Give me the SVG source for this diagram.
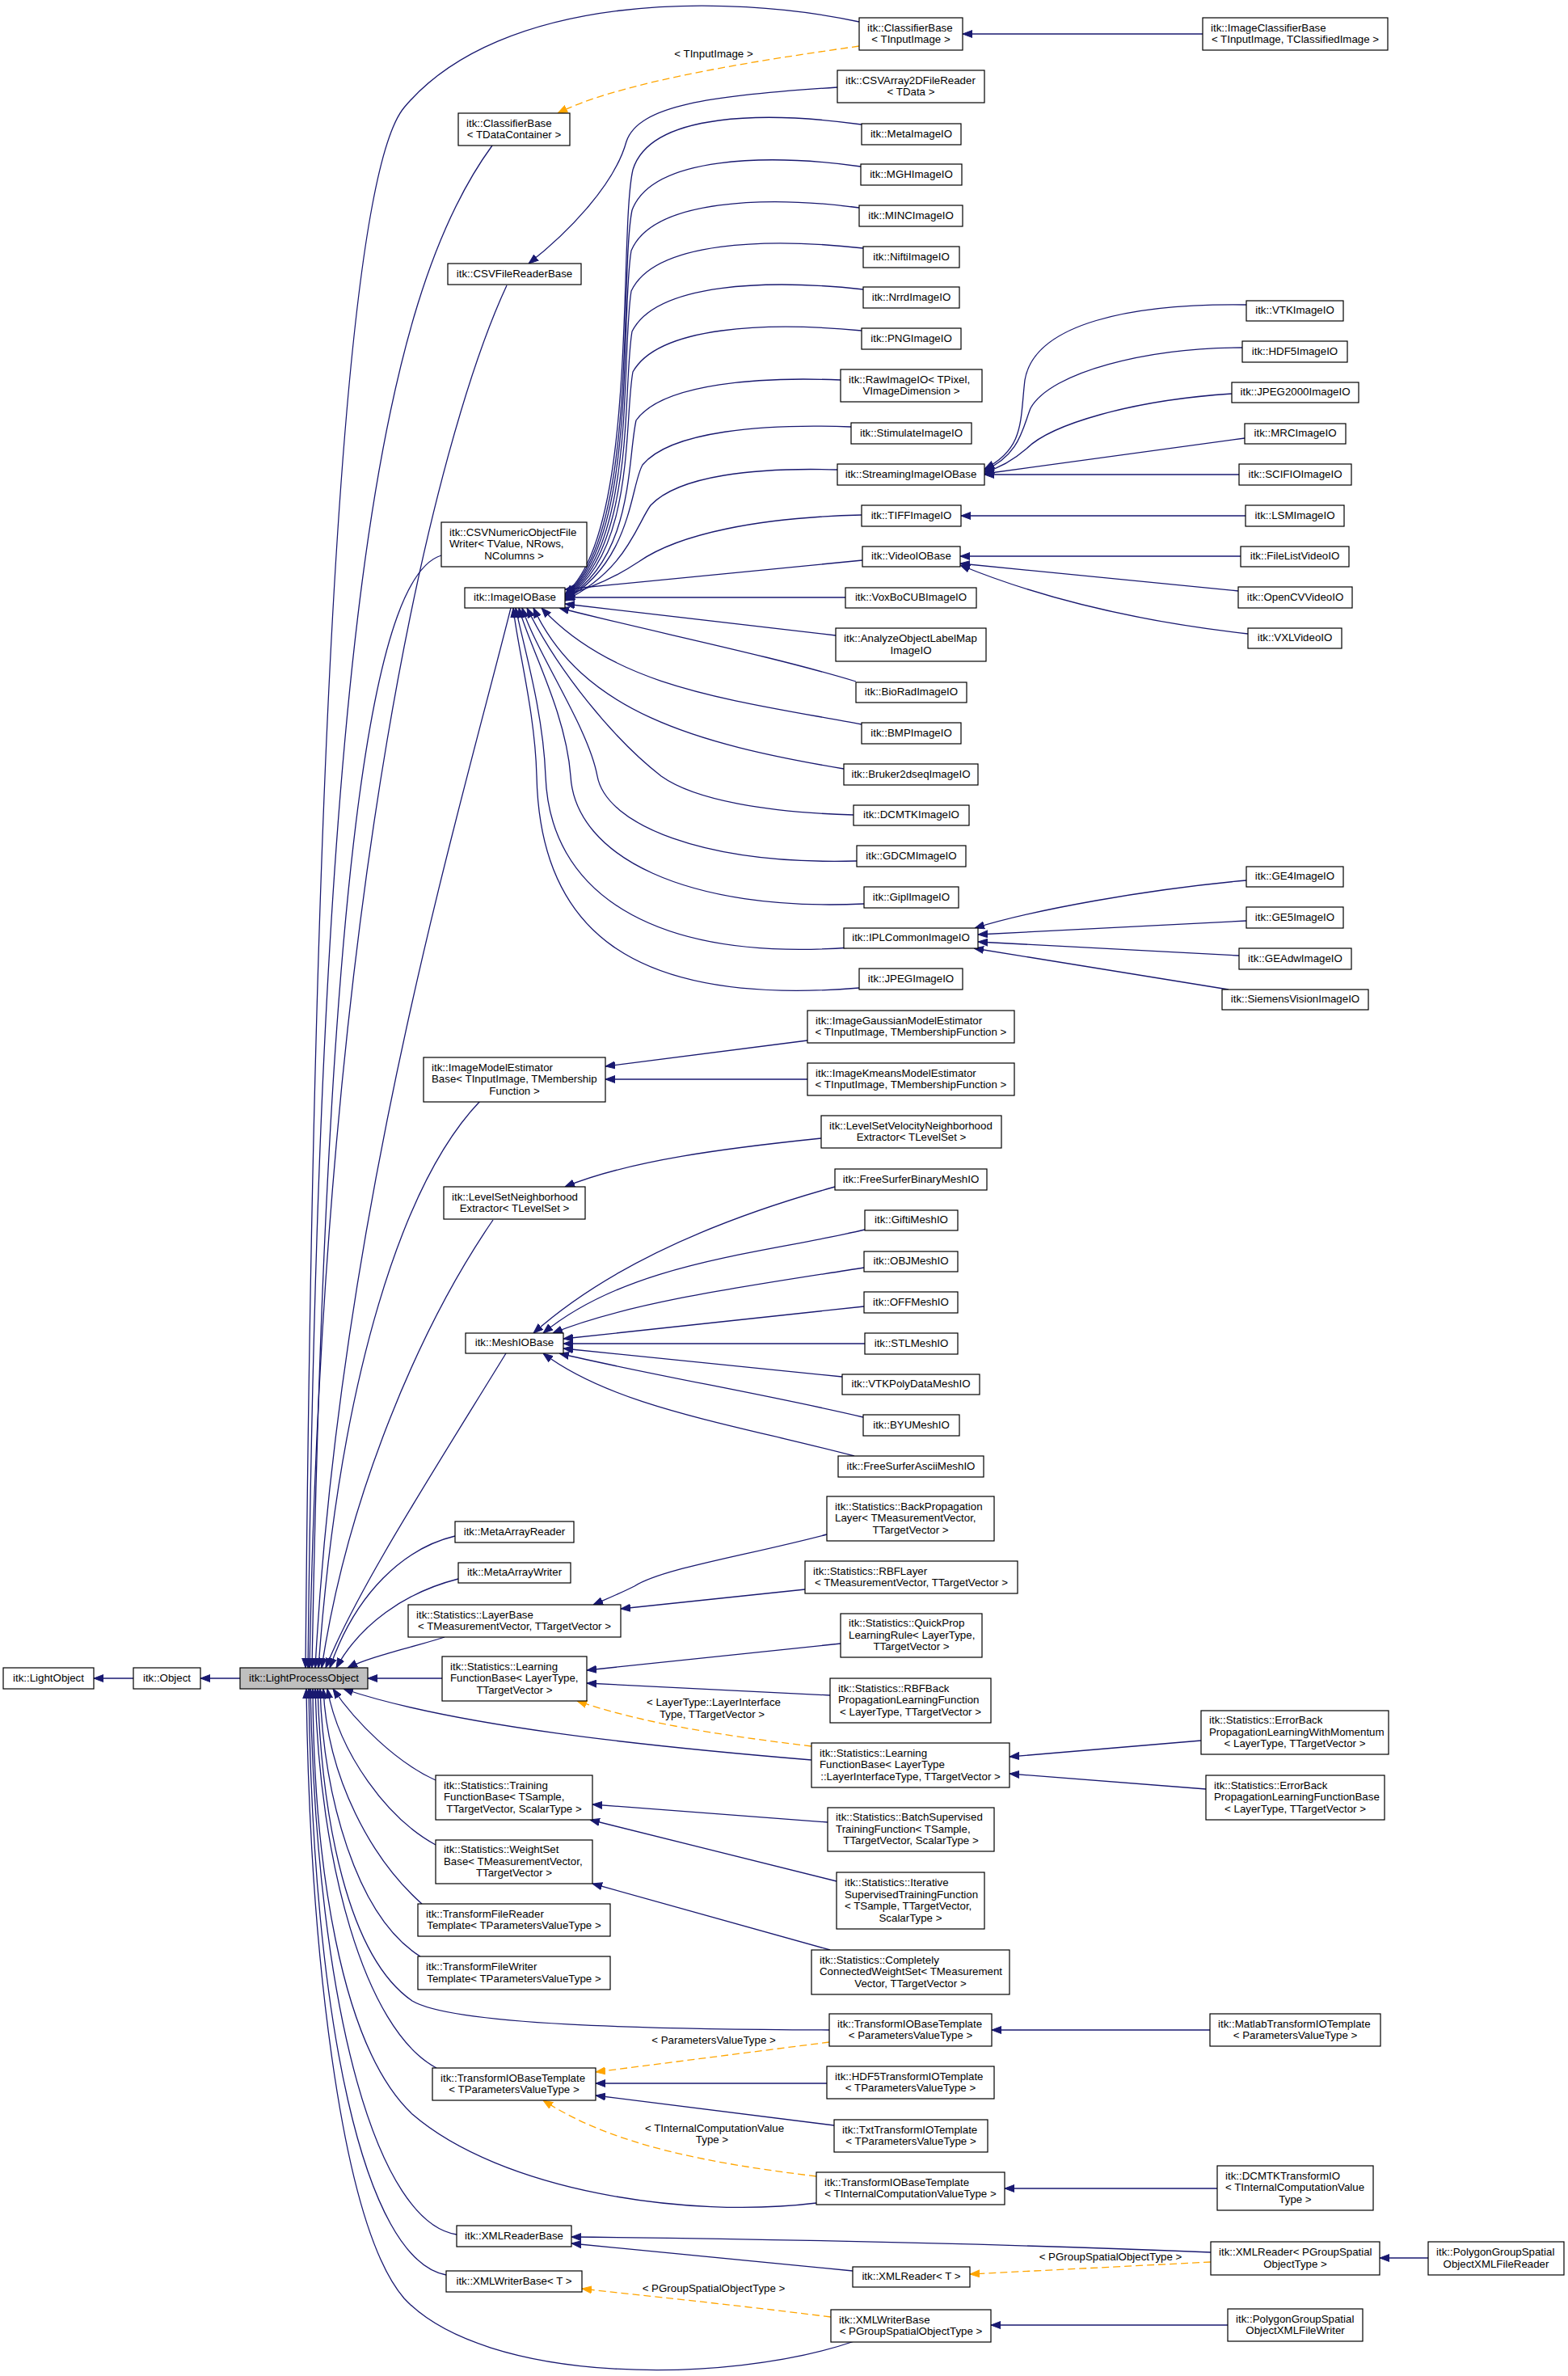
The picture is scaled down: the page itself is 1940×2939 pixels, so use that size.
<svg xmlns="http://www.w3.org/2000/svg" width="1940" height="2939" viewBox="0 0 1940 2939">
<style>
.n rect{fill:#fff;stroke:#000;stroke-width:1.2}
.n rect.g{fill:#bfbfbf}
text{font-family:"Liberation Sans",Arial,Helvetica,sans-serif;font-size:13.3px;fill:#000}
.s{text-anchor:start}
.m{text-anchor:middle}
.e path{fill:none;stroke:#191970;stroke-width:1.3;marker-end:url(#a)}
.e path.d{stroke:#ffa500;stroke-dasharray:9,5;marker-end:url(#ao)}
</style>
<defs>
<marker id="a" viewBox="0 0 12 10" refX="12" refY="5" markerWidth="12" markerHeight="10" markerUnits="userSpaceOnUse" orient="auto"><path d="M0,0.5 L12,5 L0,9.5 z" fill="#191970" stroke="#191970" stroke-width="1"/></marker>
<marker id="ao" viewBox="0 0 12 10" refX="12" refY="5" markerWidth="12" markerHeight="10" markerUnits="userSpaceOnUse" orient="auto"><path d="M0,0.5 L12,5 L0,9.5 z" fill="#ffa500" stroke="#ffa500" stroke-width="1"/></marker>
</defs>
<rect x="0" y="0" width="1940" height="2939" fill="#fff"/>
<g id="edges" class="e">
<path d="M165,2076 L116,2076"/>
<path d="M297,2076 L248,2076"/>
<path d="M1063,27 C900,-8 620,-10 500,133 C440,205 390,700 378,2063"/>
<path d="M609,180 C470,370 395,800 381,2063"/>
<path d="M627,353 C540,540 400,1100 383,2063"/>
<path d="M546,687 C470,710 405,1000 386,2063"/>
<path d="M632,752 C570,1000 420,1500 390,2063"/>
<path d="M594,1362 C500,1460 420,1700 394,2063"/>
<path d="M610,1509 C520,1640 430,1850 398,2063"/>
<path d="M626,1674 C530,1830 440,1970 403,2063"/>
<path d="M563,1900 C500,1915 440,1970 408,2063"/>
<path d="M567,1953 C500,1970 445,2010 416,2063"/>
<path d="M550,2025 C510,2038 460,2048 430,2063"/>
<path d="M547,2076 L455,2076"/>
<path d="M1004,2177 C800,2160 560,2135 425,2089"/>
<path d="M539,2202 C490,2180 440,2130 412,2089"/>
<path d="M539,2282 C480,2250 420,2170 405,2089"/>
<path d="M522,2355 C460,2300 405,2200 400,2089"/>
<path d="M520,2420 C440,2370 400,2220 396,2089"/>
<path d="M1026,2511 C800,2510 560,2505 510,2475 C430,2420 398,2250 393,2089"/>
<path d="M540,2558 C450,2510 395,2300 390,2089"/>
<path d="M1010,2725 C850,2745 620,2710 510,2615 C420,2530 388,2300 387,2089"/>
<path d="M565,2764 C470,2750 392,2500 384,2089"/>
<path d="M552,2814 C450,2795 387,2500 382,2089"/>
<path d="M1057,2896 C900,2950 600,2950 500,2843 C420,2750 383,2400 379,2089"/>
<path d="M1488,42 L1191,42"/>
<path class="d" d="M1063,57 C900,80 760,105 690,140"/>
<path d="M1036,108 C880,118 790,130 775,175 C760,230 700,290 654,326"/>
<path d="M1066,154 C950,138 805,138 783,210 C765,290 790,660 699,735"/>
<path d="M1065,206 C950,190 807,193 782,260 C766,340 790,665 699,736"/>
<path d="M1063,257 C950,242 808,246 781,310 C767,390 789,670 699,737"/>
<path d="M1068,307 C950,294 810,298 781,360 C768,440 788,675 699,738"/>
<path d="M1068,358 C950,345 812,350 782,410 C770,480 787,680 699,739"/>
<path d="M1066,409 C950,398 815,403 783,460 C772,520 786,685 699,740"/>
<path d="M1040,470 C945,466 820,473 787,520 C776,570 784,690 699,741"/>
<path d="M1053,528 C945,524 830,533 795,575 C780,600 782,695 699,742"/>
<path d="M1036,581 C935,578 840,588 805,625 C787,650 775,705 699,743"/>
<path d="M1066,637 C940,640 840,660 790,695 C760,715 730,728 699,736"/>
<path d="M1067,693 L699,729"/>
<path d="M1046,739 L699,739"/>
<path d="M1034,786 L699,747"/>
<path d="M1059,843 C950,810 800,780 692,752"/>
<path d="M1066,896 C900,865 760,850 670,752"/>
<path d="M1044,951 C860,920 720,880 660,752"/>
<path d="M1056,1008 C950,1005 860,990 818,960 C760,915 690,830 652,752"/>
<path d="M1060,1065 C870,1070 750,1020 739,960 C728,900 665,810 646,752"/>
<path d="M1069,1118 C850,1128 712,1060 706,960 C700,880 655,800 642,752"/>
<path d="M1052,1172 C800,1190 680,1100 675,960 C672,880 648,800 638,752"/>
<path d="M1063,1222 C780,1245 668,1150 664,960 C662,880 640,800 635,752"/>
<path d="M1542,377 C1400,375 1280,400 1268,470 C1262,520 1268,555 1218,580"/>
<path d="M1537,430 C1420,430 1300,460 1275,505 C1265,530 1262,562 1218,582"/>
<path d="M1524,487 C1400,495 1300,525 1270,555 C1255,568 1240,578 1218,584"/>
<path d="M1540,542 L1218,586"/>
<path d="M1533,587 L1218,587"/>
<path d="M1541,638 L1189,638"/>
<path d="M1535,688 L1188,688"/>
<path d="M1532,731 L1188,697"/>
<path d="M1544,784 C1420,770 1300,745 1188,699"/>
<path d="M1542,1089 C1420,1100 1280,1125 1206,1148"/>
<path d="M1542,1139 L1210,1156"/>
<path d="M1533,1182 L1210,1165"/>
<path d="M1520,1224 L1205,1173"/>
<path d="M999,1287 L749,1319"/>
<path d="M999,1335 L749,1335"/>
<path d="M1016,1408 C900,1420 780,1435 699,1468"/>
<path d="M1033,1468 C900,1505 760,1560 660,1649"/>
<path d="M1070,1521 C950,1550 780,1560 672,1649"/>
<path d="M1069,1568 C930,1590 780,1610 684,1649"/>
<path d="M1069,1616 L697,1656"/>
<path d="M1070,1662 L697,1662"/>
<path d="M1042,1703 L697,1668"/>
<path d="M1068,1753 C950,1725 800,1700 692,1674"/>
<path d="M1057,1801 C900,1760 760,1740 672,1674"/>
<path d="M1023,1898 C920,1925 820,1940 785,1962 C765,1972 750,1978 734,1985"/>
<path d="M996,1966 L768,1990"/>
<path d="M1040,2033 L726,2066"/>
<path d="M1027,2097 L726,2082"/>
<path class="d" d="M1004,2160 C880,2145 790,2130 714,2104"/>
<path d="M1486,2153 L1249,2173"/>
<path d="M1492,2213 L1249,2194"/>
<path d="M1024,2254 L733,2232"/>
<path d="M1035,2327 L730,2251"/>
<path d="M1027,2412 L733,2330"/>
<path d="M1497,2511 L1227,2511"/>
<path d="M1023,2577 L737,2577"/>
<path d="M1032,2629 L737,2592"/>
<path class="d" d="M1026,2526 L737,2563"/>
<path class="d" d="M1010,2692 C880,2676 760,2655 672,2598"/>
<path d="M1506,2707 L1243,2707"/>
<path d="M1498,2786 C1300,2778 1000,2770 707,2767"/>
<path d="M1055,2809 L707,2775"/>
<path class="d" d="M1498,2798 L1200,2813"/>
<path d="M1767,2793 L1707,2793"/>
<path class="d" d="M1028,2866 C900,2850 800,2840 720,2831"/>
<path d="M1519,2876 L1226,2876"/>
</g>
<g id="edge-labels">
<text class="m" x="883" y="71">&lt; TInputImage &gt;</text>
<text class="m" x="883" y="2110">&lt; LayerType::LayerInterface</text>
<text class="m" x="881" y="2124.5">Type, TTargetVector &gt;</text>
<text class="m" x="883" y="2528">&lt; ParametersValueType &gt;</text>
<text class="m" x="884" y="2636.5">&lt; TInternalComputationValue</text>
<text class="m" x="881" y="2650.5">Type &gt;</text>
<text class="m" x="883" y="2835">&lt; PGroupSpatialObjectType &gt;</text>
<text class="m" x="1374" y="2796">&lt; PGroupSpatialObjectType &gt;</text>
</g>
<g id="n-lightobject" class="n"><rect x="4" y="2063" width="112" height="26"/><text class="m" x="60" y="2079.8">itk::LightObject</text></g>
<g id="n-object" class="n"><rect x="165" y="2063" width="83" height="26"/><text class="m" x="206.5" y="2079.8">itk::Object</text></g>
<g id="n-lightprocessobject" class="n"><rect class="g" x="297" y="2063" width="158" height="26"/><text class="m" x="376" y="2079.8">itk::LightProcessObject</text></g>
<g id="n-classifierbase-tdc" class="n"><rect x="567" y="140" width="138" height="40"/><text class="s" x="577" y="156.5">itk::ClassifierBase</text><text class="m" x="636" y="171">&lt; TDataContainer &gt;</text></g>
<g id="n-csvfilereaderbase" class="n"><rect x="554" y="326" width="165" height="26"/><text class="m" x="636.5" y="342.8">itk::CSVFileReaderBase</text></g>
<g id="n-csvnumeric" class="n"><rect x="546" y="646" width="180" height="55"/><text class="s" x="556" y="662.8">itk::CSVNumericObjectFile</text><text class="s" x="556" y="677.3">Writer&lt; TValue, NRows,</text><text class="m" x="636" y="691.8">NColumns &gt;</text></g>
<g id="n-imageiobase" class="n"><rect x="575" y="727" width="124" height="25"/><text class="m" x="637" y="743.3">itk::ImageIOBase</text></g>
<g id="n-imagemodelestimatorbase" class="n"><rect x="524" y="1308" width="225" height="55"/><text class="s" x="534" y="1324.8">itk::ImageModelEstimator</text><text class="s" x="534" y="1339.3">Base&lt; TInputImage, TMembership</text><text class="m" x="636.5" y="1353.8">Function &gt;</text></g>
<g id="n-levelsetneighborhoodextractor" class="n"><rect x="549" y="1468" width="175" height="40"/><text class="s" x="559" y="1484.5">itk::LevelSetNeighborhood</text><text class="m" x="636.5" y="1499">Extractor&lt; TLevelSet &gt;</text></g>
<g id="n-meshiobase" class="n"><rect x="576" y="1649" width="121" height="25"/><text class="m" x="636.5" y="1665.3">itk::MeshIOBase</text></g>
<g id="n-metaarrayreader" class="n"><rect x="563" y="1882" width="147" height="26"/><text class="m" x="636.5" y="1898.8">itk::MetaArrayReader</text></g>
<g id="n-metaarraywriter" class="n"><rect x="567" y="1933" width="139" height="25"/><text class="m" x="636.5" y="1949.3">itk::MetaArrayWriter</text></g>
<g id="n-layerbase" class="n"><rect x="505" y="1985" width="263" height="40"/><text class="s" x="515" y="2001.5">itk::Statistics::LayerBase</text><text class="m" x="636.5" y="2016">&lt; TMeasurementVector, TTargetVector &gt;</text></g>
<g id="n-learningfunctionbase" class="n"><rect x="547" y="2049" width="179" height="55"/><text class="s" x="557" y="2065.8">itk::Statistics::Learning</text><text class="s" x="557" y="2080.3">FunctionBase&lt; LayerType,</text><text class="m" x="636.5" y="2094.8">TTargetVector &gt;</text></g>
<g id="n-trainingfunctionbase" class="n"><rect x="539" y="2196" width="194" height="55"/><text class="s" x="549" y="2212.8">itk::Statistics::Training</text><text class="s" x="549" y="2227.3">FunctionBase&lt; TSample,</text><text class="m" x="636" y="2241.8">TTargetVector, ScalarType &gt;</text></g>
<g id="n-weightsetbase" class="n"><rect x="539" y="2276" width="194" height="54"/><text class="s" x="549" y="2292.3">itk::Statistics::WeightSet</text><text class="s" x="549" y="2306.8">Base&lt; TMeasurementVector,</text><text class="m" x="636" y="2321.3">TTargetVector &gt;</text></g>
<g id="n-transformfilereadertemplate" class="n"><rect x="517" y="2355" width="238" height="40"/><text class="s" x="527" y="2371.5">itk::TransformFileReader</text><text class="m" x="636" y="2386">Template&lt; TParametersValueType &gt;</text></g>
<g id="n-transformfilewritertemplate" class="n"><rect x="517" y="2420" width="238" height="41"/><text class="s" x="527" y="2437">itk::TransformFileWriter</text><text class="m" x="636" y="2451.5">Template&lt; TParametersValueType &gt;</text></g>
<g id="n-transformiobasetemplate-tpvt" class="n"><rect x="535" y="2558" width="202" height="40"/><text class="s" x="545" y="2574.5">itk::TransformIOBaseTemplate</text><text class="m" x="636" y="2589">&lt; TParametersValueType &gt;</text></g>
<g id="n-xmlreaderbase" class="n"><rect x="565" y="2753" width="142" height="26"/><text class="m" x="636" y="2769.8">itk::XMLReaderBase</text></g>
<g id="n-xmlwriterbase-t" class="n"><rect x="552" y="2809" width="168" height="26"/><text class="m" x="636" y="2825.8">itk::XMLWriterBase&lt; T &gt;</text></g>
<g id="n-classifierbase-tii" class="n"><rect x="1063" y="22" width="128" height="40"/><text class="s" x="1073" y="38.5">itk::ClassifierBase</text><text class="m" x="1127" y="53">&lt; TInputImage &gt;</text></g>
<g id="n-csvarray2dfilereader" class="n"><rect x="1036" y="87" width="182" height="40"/><text class="s" x="1046" y="103.5">itk::CSVArray2DFileReader</text><text class="m" x="1127" y="118">&lt; TData &gt;</text></g>
<g id="n-metaimageio" class="n"><rect x="1066" y="153" width="123" height="26"/><text class="m" x="1127.5" y="169.8">itk::MetaImageIO</text></g>
<g id="n-mghimageio" class="n"><rect x="1065" y="203" width="125" height="26"/><text class="m" x="1127.5" y="219.8">itk::MGHImageIO</text></g>
<g id="n-mincimageio" class="n"><rect x="1063" y="254" width="128" height="26"/><text class="m" x="1127" y="270.8">itk::MINCImageIO</text></g>
<g id="n-niftiimageio" class="n"><rect x="1068" y="305" width="119" height="26"/><text class="m" x="1127.5" y="321.8">itk::NiftiImageIO</text></g>
<g id="n-nrrdimageio" class="n"><rect x="1068" y="355" width="119" height="26"/><text class="m" x="1127.5" y="371.8">itk::NrrdImageIO</text></g>
<g id="n-pngimageio" class="n"><rect x="1066" y="406" width="123" height="26"/><text class="m" x="1127.5" y="422.8">itk::PNGImageIO</text></g>
<g id="n-rawimageio" class="n"><rect x="1040" y="457" width="175" height="40"/><text class="s" x="1050" y="473.5">itk::RawImageIO&lt; TPixel,</text><text class="m" x="1127.5" y="488">VImageDimension &gt;</text></g>
<g id="n-stimulateimageio" class="n"><rect x="1053" y="523" width="149" height="26"/><text class="m" x="1127.5" y="539.8">itk::StimulateImageIO</text></g>
<g id="n-streamingimageiobase" class="n"><rect x="1036" y="574" width="182" height="26"/><text class="m" x="1127" y="590.8">itk::StreamingImageIOBase</text></g>
<g id="n-tiffimageio" class="n"><rect x="1066" y="625" width="123" height="26"/><text class="m" x="1127.5" y="641.8">itk::TIFFImageIO</text></g>
<g id="n-videoiobase" class="n"><rect x="1067" y="676" width="121" height="25"/><text class="m" x="1127.5" y="692.3">itk::VideoIOBase</text></g>
<g id="n-voxbocubimageio" class="n"><rect x="1046" y="727" width="162" height="25"/><text class="m" x="1127" y="743.3">itk::VoxBoCUBImageIO</text></g>
<g id="n-analyzeobjectlabelmapimageio" class="n"><rect x="1034" y="777" width="186" height="41"/><text class="s" x="1044" y="794">itk::AnalyzeObjectLabelMap</text><text class="m" x="1127" y="808.5">ImageIO</text></g>
<g id="n-bioradimageio" class="n"><rect x="1059" y="844" width="137" height="25"/><text class="m" x="1127.5" y="860.3">itk::BioRadImageIO</text></g>
<g id="n-bmpimageio" class="n"><rect x="1066" y="894" width="123" height="26"/><text class="m" x="1127.5" y="910.8">itk::BMPImageIO</text></g>
<g id="n-bruker2dseqimageio" class="n"><rect x="1044" y="945" width="166" height="26"/><text class="m" x="1127" y="961.8">itk::Bruker2dseqImageIO</text></g>
<g id="n-dcmtkimageio" class="n"><rect x="1056" y="996" width="143" height="25"/><text class="m" x="1127.5" y="1012.3">itk::DCMTKImageIO</text></g>
<g id="n-gdcmimageio" class="n"><rect x="1060" y="1046" width="135" height="26"/><text class="m" x="1127.5" y="1062.8">itk::GDCMImageIO</text></g>
<g id="n-giplimageio" class="n"><rect x="1069" y="1097" width="117" height="26"/><text class="m" x="1127.5" y="1113.8">itk::GiplImageIO</text></g>
<g id="n-iplcommonimageio" class="n"><rect x="1044" y="1148" width="166" height="25"/><text class="m" x="1127" y="1164.3">itk::IPLCommonImageIO</text></g>
<g id="n-jpegimageio" class="n"><rect x="1063" y="1198" width="128" height="26"/><text class="m" x="1127" y="1214.8">itk::JPEGImageIO</text></g>
<g id="n-imagegaussianmodelestimator" class="n"><rect x="999" y="1250" width="256" height="40"/><text class="s" x="1009" y="1266.5">itk::ImageGaussianModelEstimator</text><text class="m" x="1127" y="1281">&lt; TInputImage, TMembershipFunction &gt;</text></g>
<g id="n-imagekmeansmodelestimator" class="n"><rect x="999" y="1315" width="256" height="40"/><text class="s" x="1009" y="1331.5">itk::ImageKmeansModelEstimator</text><text class="m" x="1127" y="1346">&lt; TInputImage, TMembershipFunction &gt;</text></g>
<g id="n-levelsetvelocityneighborhoodextractor" class="n"><rect x="1016" y="1380" width="223" height="40"/><text class="s" x="1026" y="1396.5">itk::LevelSetVelocityNeighborhood</text><text class="m" x="1127.5" y="1411">Extractor&lt; TLevelSet &gt;</text></g>
<g id="n-freesurferbinarymeshio" class="n"><rect x="1033" y="1446" width="188" height="26"/><text class="m" x="1127" y="1462.8">itk::FreeSurferBinaryMeshIO</text></g>
<g id="n-giftimeshio" class="n"><rect x="1070" y="1497" width="115" height="25"/><text class="m" x="1127.5" y="1513.3">itk::GiftiMeshIO</text></g>
<g id="n-objmeshio" class="n"><rect x="1069" y="1548" width="116" height="25"/><text class="m" x="1127" y="1564.3">itk::OBJMeshIO</text></g>
<g id="n-offmeshio" class="n"><rect x="1069" y="1598" width="116" height="26"/><text class="m" x="1127" y="1614.8">itk::OFFMeshIO</text></g>
<g id="n-stlmeshio" class="n"><rect x="1070" y="1649" width="115" height="26"/><text class="m" x="1127.5" y="1665.8">itk::STLMeshIO</text></g>
<g id="n-vtkpolydatameshio" class="n"><rect x="1042" y="1700" width="170" height="25"/><text class="m" x="1127" y="1716.3">itk::VTKPolyDataMeshIO</text></g>
<g id="n-byumeshio" class="n"><rect x="1068" y="1750" width="119" height="26"/><text class="m" x="1127.5" y="1766.8">itk::BYUMeshIO</text></g>
<g id="n-freesurferasciimeshio" class="n"><rect x="1037" y="1801" width="180" height="26"/><text class="m" x="1127" y="1817.8">itk::FreeSurferAsciiMeshIO</text></g>
<g id="n-backpropagationlayer" class="n"><rect x="1023" y="1851" width="207" height="55"/><text class="s" x="1033" y="1867.8">itk::Statistics::BackPropagation</text><text class="s" x="1033" y="1882.3">Layer&lt; TMeasurementVector,</text><text class="m" x="1126.5" y="1896.8">TTargetVector &gt;</text></g>
<g id="n-rbflayer" class="n"><rect x="996" y="1931" width="263" height="40"/><text class="s" x="1006" y="1947.5">itk::Statistics::RBFLayer</text><text class="m" x="1127.5" y="1962">&lt; TMeasurementVector, TTargetVector &gt;</text></g>
<g id="n-quickproplearningrule" class="n"><rect x="1040" y="1996" width="175" height="54"/><text class="s" x="1050" y="2012.3">itk::Statistics::QuickProp</text><text class="s" x="1050" y="2026.8">LearningRule&lt; LayerType,</text><text class="m" x="1127.5" y="2041.3">TTargetVector &gt;</text></g>
<g id="n-rbfbackpropagationlearningfunction" class="n"><rect x="1027" y="2076" width="199" height="55"/><text class="s" x="1037" y="2092.8">itk::Statistics::RBFBack</text><text class="s" x="1037" y="2107.3">PropagationLearningFunction</text><text class="m" x="1126.5" y="2121.8">&lt; LayerType, TTargetVector &gt;</text></g>
<g id="n-learningfunctionbase-li" class="n"><rect x="1004" y="2156" width="245" height="55"/><text class="s" x="1014" y="2172.8">itk::Statistics::Learning</text><text class="s" x="1014" y="2187.3">FunctionBase&lt; LayerType</text><text class="m" x="1126.5" y="2201.8">::LayerInterfaceType, TTargetVector &gt;</text></g>
<g id="n-batchsupervisedtrainingfunction" class="n"><rect x="1024" y="2236" width="206" height="54"/><text class="s" x="1034" y="2252.3">itk::Statistics::BatchSupervised</text><text class="s" x="1034" y="2266.8">TrainingFunction&lt; TSample,</text><text class="m" x="1127" y="2281.3">TTargetVector, ScalarType &gt;</text></g>
<g id="n-iterativesupervisedtrainingfunction" class="n"><rect x="1035" y="2316" width="183" height="70"/><text class="s" x="1045" y="2333">itk::Statistics::Iterative</text><text class="s" x="1045" y="2347.5">SupervisedTrainingFunction</text><text class="s" x="1045" y="2362">&lt; TSample, TTargetVector,</text><text class="m" x="1126.5" y="2376.5">ScalarType &gt;</text></g>
<g id="n-completelyconnectedweightset" class="n"><rect x="1004" y="2412" width="245" height="55"/><text class="s" x="1014" y="2428.8">itk::Statistics::Completely</text><text class="s" x="1014" y="2443.3">ConnectedWeightSet&lt; TMeasurement</text><text class="m" x="1126.5" y="2457.8">Vector, TTargetVector &gt;</text></g>
<g id="n-transformiobasetemplate-pvt" class="n"><rect x="1026" y="2491" width="201" height="40"/><text class="s" x="1036" y="2507.5">itk::TransformIOBaseTemplate</text><text class="m" x="1126.5" y="2522">&lt; ParametersValueType &gt;</text></g>
<g id="n-hdf5transformiotemplate" class="n"><rect x="1023" y="2556" width="207" height="40"/><text class="s" x="1033" y="2572.5">itk::HDF5TransformIOTemplate</text><text class="m" x="1126.5" y="2587">&lt; TParametersValueType &gt;</text></g>
<g id="n-txttransformiotemplate" class="n"><rect x="1032" y="2622" width="190" height="40"/><text class="s" x="1042" y="2638.5">itk::TxtTransformIOTemplate</text><text class="m" x="1127" y="2653">&lt; TParametersValueType &gt;</text></g>
<g id="n-transformiobasetemplate-ticvt" class="n"><rect x="1010" y="2687" width="233" height="40"/><text class="s" x="1020" y="2703.5">itk::TransformIOBaseTemplate</text><text class="m" x="1126.5" y="2718">&lt; TInternalComputationValueType &gt;</text></g>
<g id="n-xmlreader-t" class="n"><rect x="1055" y="2804" width="145" height="25"/><text class="m" x="1127.5" y="2820.3">itk::XMLReader&lt; T &gt;</text></g>
<g id="n-xmlwriterbase-pgroup" class="n"><rect x="1028" y="2857" width="198" height="40"/><text class="s" x="1038" y="2873.5">itk::XMLWriterBase</text><text class="m" x="1127" y="2888">&lt; PGroupSpatialObjectType &gt;</text></g>
<g id="n-imageclassifierbase" class="n"><rect x="1488" y="22" width="229" height="40"/><text class="s" x="1498" y="38.5">itk::ImageClassifierBase</text><text class="m" x="1602.5" y="53">&lt; TInputImage, TClassifiedImage &gt;</text></g>
<g id="n-vtkimageio" class="n"><rect x="1542" y="372" width="120" height="25"/><text class="m" x="1602" y="388.3">itk::VTKImageIO</text></g>
<g id="n-hdf5imageio" class="n"><rect x="1537" y="422" width="130" height="26"/><text class="m" x="1602" y="438.8">itk::HDF5ImageIO</text></g>
<g id="n-jpeg2000imageio" class="n"><rect x="1524" y="473" width="157" height="25"/><text class="m" x="1602.5" y="489.3">itk::JPEG2000ImageIO</text></g>
<g id="n-mrcimageio" class="n"><rect x="1540" y="524" width="125" height="25"/><text class="m" x="1602.5" y="540.3">itk::MRCImageIO</text></g>
<g id="n-scifioimageio" class="n"><rect x="1533" y="574" width="139" height="26"/><text class="m" x="1602.5" y="590.8">itk::SCIFIOImageIO</text></g>
<g id="n-lsmimageio" class="n"><rect x="1541" y="625" width="122" height="26"/><text class="m" x="1602" y="641.8">itk::LSMImageIO</text></g>
<g id="n-filelistvideoio" class="n"><rect x="1535" y="676" width="134" height="25"/><text class="m" x="1602" y="692.3">itk::FileListVideoIO</text></g>
<g id="n-opencvvideoio" class="n"><rect x="1532" y="726" width="141" height="26"/><text class="m" x="1602.5" y="742.8">itk::OpenCVVideoIO</text></g>
<g id="n-vxlvideoio" class="n"><rect x="1544" y="777" width="116" height="25"/><text class="m" x="1602" y="793.3">itk::VXLVideoIO</text></g>
<g id="n-ge4imageio" class="n"><rect x="1542" y="1072" width="120" height="25"/><text class="m" x="1602" y="1088.3">itk::GE4ImageIO</text></g>
<g id="n-ge5imageio" class="n"><rect x="1542" y="1122" width="120" height="26"/><text class="m" x="1602" y="1138.8">itk::GE5ImageIO</text></g>
<g id="n-geadwimageio" class="n"><rect x="1533" y="1173" width="139" height="26"/><text class="m" x="1602.5" y="1189.8">itk::GEAdwImageIO</text></g>
<g id="n-siemensvisionimageio" class="n"><rect x="1512" y="1224" width="181" height="25"/><text class="m" x="1602.5" y="1240.3">itk::SiemensVisionImageIO</text></g>
<g id="n-errorbackpropagationlearningwithmomentum" class="n"><rect x="1486" y="2116" width="232" height="54"/><text class="s" x="1496" y="2132.3">itk::Statistics::ErrorBack</text><text class="s" x="1496" y="2146.8">PropagationLearningWithMomentum</text><text class="m" x="1602" y="2161.3">&lt; LayerType, TTargetVector &gt;</text></g>
<g id="n-errorbackpropagationlearningfunctionbase" class="n"><rect x="1492" y="2196" width="221" height="55"/><text class="s" x="1502" y="2212.8">itk::Statistics::ErrorBack</text><text class="s" x="1502" y="2227.3">PropagationLearningFunctionBase</text><text class="m" x="1602.5" y="2241.8">&lt; LayerType, TTargetVector &gt;</text></g>
<g id="n-matlabtransformiotemplate" class="n"><rect x="1497" y="2491" width="211" height="40"/><text class="s" x="1507" y="2507.5">itk::MatlabTransformIOTemplate</text><text class="m" x="1602.5" y="2522">&lt; ParametersValueType &gt;</text></g>
<g id="n-dcmtktransformio" class="n"><rect x="1506" y="2679" width="193" height="55"/><text class="s" x="1516" y="2695.8">itk::DCMTKTransformIO</text><text class="s" x="1516" y="2710.3">&lt; TInternalComputationValue</text><text class="m" x="1602.5" y="2724.8">Type &gt;</text></g>
<g id="n-xmlreader-pgroup" class="n"><rect x="1498" y="2773" width="209" height="41"/><text class="s" x="1508" y="2790">itk::XMLReader&lt; PGroupSpatial</text><text class="m" x="1602.5" y="2804.5">ObjectType &gt;</text></g>
<g id="n-polygongroupspatialobjectxmlfilewriter" class="n"><rect x="1519" y="2856" width="167" height="40"/><text class="s" x="1529" y="2872.5">itk::PolygonGroupSpatial</text><text class="m" x="1602.5" y="2887">ObjectXMLFileWriter</text></g>
<g id="n-polygongroupspatialobjectxmlfilereader" class="n"><rect x="1767" y="2773" width="168" height="41"/><text class="s" x="1777" y="2790">itk::PolygonGroupSpatial</text><text class="m" x="1851" y="2804.5">ObjectXMLFileReader</text></g>
</svg>
